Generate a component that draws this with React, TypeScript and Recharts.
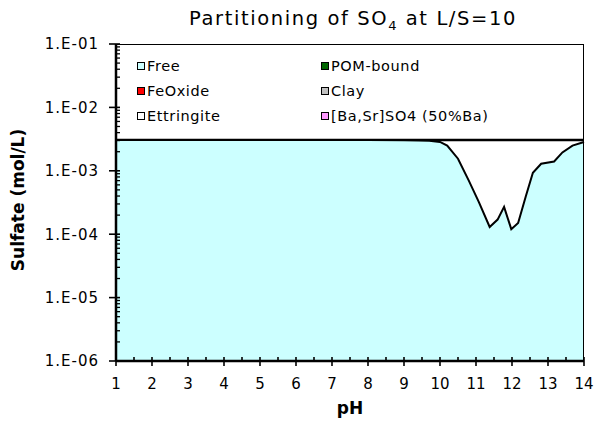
import React from 'react';
import { ComposedChart, Area, XAxis, YAxis } from 'recharts';

// ---- data ----
const pHValues = [1, 2, 3, 4, 5, 6, 7, 8, 9, 9.4, 9.7, 10, 10.2, 10.5, 10.8, 11.08, 11.38, 11.6, 11.78, 11.98, 12.17, 12.38, 12.58, 12.81, 13.17, 13.4, 13.68, 14];
const freeSulfate = [3.05e-3, 3.05e-3, 3.05e-3, 3.05e-3, 3.05e-3, 3.05e-3, 3.05e-3, 3.05e-3, 3.03e-3, 3.0e-3, 2.97e-3, 2.85e-3, 2.5e-3, 1.55e-3, 7e-4, 3.2e-4, 1.3e-4, 1.7e-4, 2.7e-4, 1.2e-4, 1.5e-4, 3.9e-4, 9.3e-4, 1.29e-3, 1.4e-3, 1.95e-3, 2.5e-3, 2.85e-3];
const ettringiteTotal = [3.05e-3, 3.05e-3, 3.05e-3, 3.05e-3, 3.05e-3, 3.05e-3, 3.05e-3, 3.05e-3, 3.05e-3, 3.05e-3, 3.05e-3, 3.05e-3, 3.05e-3, 3.05e-3, 3.05e-3, 3.05e-3, 3.05e-3, 3.05e-3, 3.05e-3, 3.05e-3, 3.05e-3, 3.05e-3, 3.05e-3, 3.05e-3, 3.05e-3, 3.05e-3, 3.05e-3, 3.05e-3];

const xTicks = [1, 2, 3, 4, 5, 6, 7, 8, 9, 10, 11, 12, 13, 14];
const xAllTicks = [1, 1.5, 2, 2.5, 3, 3.5, 4, 4.5, 5, 5.5, 6, 6.5, 7, 7.5, 8, 8.5, 9, 9.5, 10, 10.5, 11, 11.5, 12, 12.5, 13, 13.5, 14];
const yTicks = [1e-6, 1e-5, 1e-4, 1e-3, 1e-2, 1e-1];
const yTickLabels = ['1.E-06', '1.E-05', '1.E-04', '1.E-03', '1.E-02', '1.E-01'];
const minorMultipliers = [1, 2, 3, 4, 5, 6, 7, 8, 9];

const legendNames = ['Free', 'POM-bound', 'FeOxide', 'Clay', 'Ettringite', '[Ba,Sr]SO4 (50%Ba)'];
const legendColors = ['#CCFFFF', '#006600', '#FF0000', '#C0C0C0', '#FFFFFF', '#FF99FF'];

const data = pHValues.map((p, i) => ({ pH: p, free: freeSulfate[i], total: ettringiteTotal[i] }));
const yAllTicks = yTicks.slice(0, -1).flatMap((d) => minorMultipliers.map((m) => d * m)).concat([1e-1]);

const FONT = '"DejaVu Sans", Verdana, sans-serif';
const X_SIZE = 4;
const X_MARGIN = 10;
const Y_SIZE = 4;
const Y_MARGIN = 10;

const majorYIndex = (v: number) => yTicks.findIndex((t) => Math.abs(Math.log10(t) - Math.log10(v)) < 1e-6);

const XTick = (props: any) => {
  const { x, y, payload } = props;
  const axisY = y - X_SIZE - X_MARGIN;
  const v = payload.value;
  const major = xTicks.some((t) => Math.abs(t - v) < 1e-9);
  return (
    <g>
      <line x1={x} x2={x} y1={axisY - 4} y2={major ? axisY + 5 : axisY} stroke="#000" strokeWidth={1.6} />
      {major && (
        <text x={x} y={axisY + 17} dy="0.71em" textAnchor="middle" fontFamily={FONT} fontSize={15} fill="#000">
          {String(v)}
        </text>
      )}
    </g>
  );
};

const YTick = (props: any) => {
  const { x, y, payload } = props;
  const axisX = x + Y_SIZE + Y_MARGIN;
  const idx = majorYIndex(payload.value);
  const major = idx >= 0;
  return (
    <g>
      <line x1={major ? axisX - 7 : axisX} x2={axisX + 4} y1={y} y2={y} stroke="#000" strokeWidth={major ? 1.6 : 1.3} />
      {major && (
        <text x={axisX - 17} y={y} dy="0.355em" textAnchor="end" fontFamily={FONT} fontSize={15} letterSpacing={1} fill="#000">
          {yTickLabels[idx]}
        </text>
      )}
    </g>
  );
};

export default function App() {
  const legendLeft = [137, 321];
  const legendTop = [65.5, 91, 116];
  return (
    <div style={{ position: 'absolute', left: 0, top: 0, width: 596, height: 426, fontFamily: FONT, color: '#000' }}>
      <ComposedChart width={596} height={426} data={data} margin={{ top: 44, right: 12, left: 56, bottom: 35 }}>
        <Area xAxisId="x" yAxisId="y" type="linear" dataKey="total" fill="#FFFFFF" fillOpacity={1} stroke="#000" strokeWidth={2.5} isAnimationActive={false} />
        <Area xAxisId="x" yAxisId="y" type="linear" dataKey="free" fill="#CCFFFF" fillOpacity={1} stroke="#000" strokeWidth={2} isAnimationActive={false} />
        <XAxis
          xAxisId="x"
          dataKey="pH"
          type="number"
          domain={[1, 14]}
          ticks={xAllTicks}
          interval={0}
          height={30}
          tickSize={X_SIZE}
          tickMargin={X_MARGIN}
          tick={<XTick />}
          stroke="#000"
          tickLine={{ stroke: 'none' }}
          axisLine={{ stroke: '#000', strokeWidth: 2.5 }}
        />
        <YAxis
          yAxisId="y"
          type="number"
          scale="log"
          domain={[1e-6, 1e-1]}
          ticks={yAllTicks}
          interval={0}
          width={60}
          tickSize={Y_SIZE}
          tickMargin={Y_MARGIN}
          tick={<YTick />}
          stroke="#000"
          tickLine={{ stroke: 'none' }}
          axisLine={{ stroke: '#000', strokeWidth: 2.5 }}
        />
      </ComposedChart>

      {/* Plot frame (top and right edges) */}
      <div style={{ position: 'absolute', left: 116, top: 44, width: 468, height: 317, boxSizing: 'border-box', borderTop: '1px solid #000', borderRight: '1.5px solid #000', pointerEvents: 'none' }} />

      {/* Title */}
      <div style={{ position: 'absolute', left: 153, width: 400, top: 7, textAlign: 'center', fontSize: 19.5, letterSpacing: 1.6, lineHeight: '24px', whiteSpace: 'nowrap' }}>
        Partitioning of SO<span style={{ fontSize: 13, position: 'relative', top: 5 }}>4</span> at L/S=10
      </div>

      {/* Axis titles */}
      <div style={{ position: 'absolute', left: 250, width: 200, top: 398, textAlign: 'center', fontSize: 17, fontWeight: 'bold', lineHeight: '20px' }}>
        pH
      </div>
      <div style={{ position: 'absolute', left: -82, width: 200, top: 190, height: 20, textAlign: 'center', fontSize: 17, fontWeight: 'bold', lineHeight: '20px', transform: 'rotate(-90deg)', whiteSpace: 'nowrap' }}>
        Sulfate (mol/L)
      </div>

      {/* Legend */}
      {legendNames.map((name, i) => (
        <div
          key={name}
          style={{ position: 'absolute', left: legendLeft[i % 2], top: legendTop[Math.floor(i / 2)] - 9, height: 18, display: 'flex', alignItems: 'center', fontSize: 14.5, letterSpacing: 0.6, whiteSpace: 'nowrap' }}
        >
          <span style={{ display: 'inline-block', width: 8, height: 8, boxSizing: 'border-box', border: '1.5px solid #000', background: legendColors[i], marginRight: 2 }} />
          <span>{name}</span>
        </div>
      ))}
    </div>
  );
}
